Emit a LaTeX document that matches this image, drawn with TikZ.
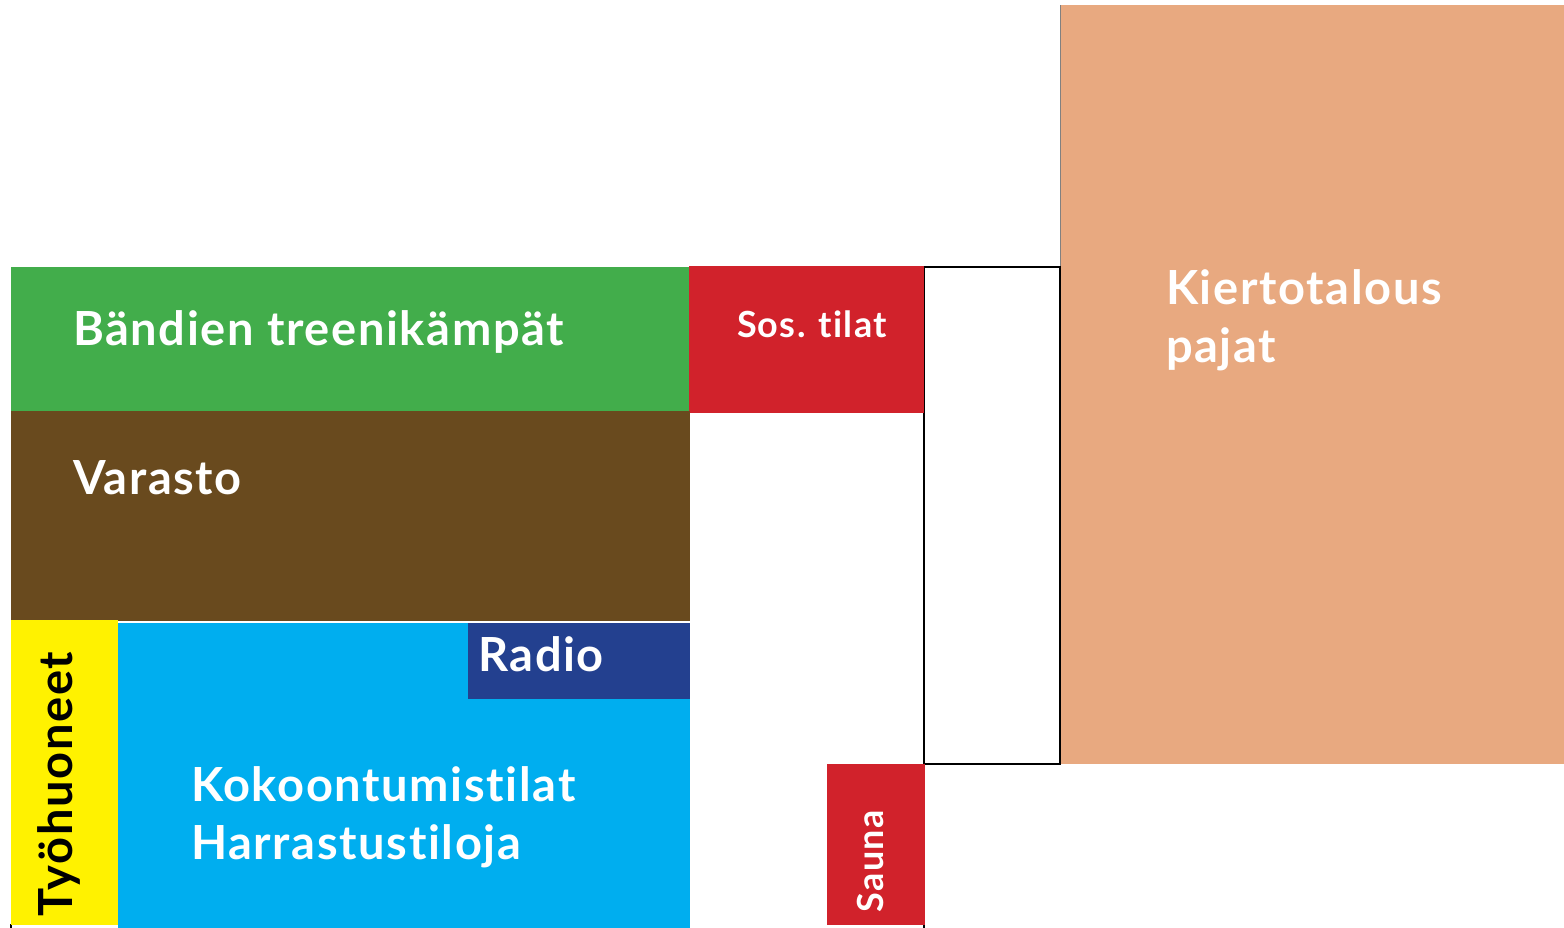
\documentclass[tikz,border=0pt]{standalone}
\usepackage{fontspec}
\setmainfont{Lato}[Ligatures={NoCommon}, LetterSpace=3.5]
\definecolor{grn}{HTML}{42AD4B}
\definecolor{brn}{HTML}{694A1E}
\definecolor{red1}{HTML}{D1222B}
\definecolor{orn}{HTML}{E8A980}
\definecolor{cyn}{HTML}{00AEEF}
\definecolor{nav}{HTML}{23408F}
\definecolor{yel}{HTML}{FFF200}
\tikzset{
  room/.style={draw=none, inner sep=0pt, outer sep=0pt, anchor=north west},
  lbl/.style={inner sep=0pt, outer sep=0pt, anchor=base west, text=white, font=\bfseries\fontsize{47}{56}\selectfont},
  slbl/.style={lbl, font=\bfseries\fontsize{36}{42}\selectfont},
  wall/.style={draw=black, line width=2.5pt}
}
\begin{document}
\begin{tikzpicture}[x=1pt,y=-1pt]
\useasboundingbox (0,0) rectangle (1564,928);
% outline lines
\coordinate (w1) at (924,764);
\coordinate (w2) at (924,928);
\draw[wall] (w1) -- (w2);
\coordinate (t1) at (11,924);
\coordinate (t2) at (11,928);
\draw[black, line width=1.5pt] (t1) -- (t2);
% orange
\node[room, fill=orn, minimum width=504pt, minimum height=759pt] (kier) at (1060,5) {};
\coordinate (g1) at (1060,5);
\coordinate (g2) at (1060,267);
\draw[gray, line width=0.8pt] (g1) -- (g2);
% black box
\node[room, wall, minimum width=136pt, minimum height=497pt] (box) at (924,267) {};
% green
\node[room, fill=grn, minimum width=679pt, minimum height=144pt] (band) at (11,267) {};
% sos
\node[room, fill=red1, minimum width=235pt, minimum height=147pt] (sos) at (689,266) {};
% brown
\node[room, fill=brn, minimum width=679pt, minimum height=210pt] (var) at (11,411) {};
% yellow
\node[room, fill=yel, minimum width=107pt, minimum height=305pt] (tyo) at (11,620) {};
% blue
\node[room, fill=cyn, minimum width=572pt, minimum height=305pt] (koko) at (118,623) {};
% radio
\node[room, fill=nav, minimum width=222pt, minimum height=76pt] (radio) at (468,623) {};
% sauna
\node[room, fill=red1, minimum width=98pt, minimum height=161pt] (sauna) at (827,764) {};
% labels
\node[lbl] (tband) at (73,345) {Bändien treenikämpät};
\node[lbl] (tvar) at (73,494) {Varasto};
\node[slbl] (tsos) at (737,337) {Sos. tilat};
\node[lbl] (tkier1) at (1166,305) {Kiertotalous};
\node[lbl] (tkier2) at (1166,362) {pajat};
\node[lbl] (tradio) at (478,671) {Radio};
\node[lbl] (tkoko1) at (191,801) {Kokoontumistilat};
\node[lbl] (tkoko2) at (191,859) {Harrastustiloja};
\node[lbl, text=black, rotate=90] (ttyo) at (72,916) {Työhuoneet};
\node[slbl, rotate=90] (tsauna) at (883,912) {Sauna};
\end{tikzpicture}
\end{document}
